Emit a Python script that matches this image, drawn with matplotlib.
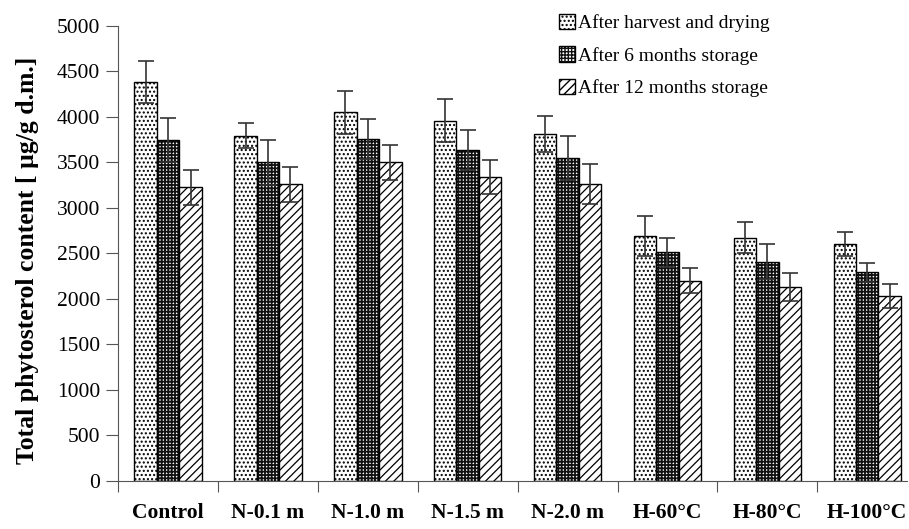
import numpy as np
import matplotlib.pyplot as plt
from matplotlib.patches import Patch

plt.rcParams['font.family'] = ['Liberation Serif', 'DejaVu Serif']

# Data
categories = ['Control', 'N-0.1 m', 'N-1.0 m', 'N-1.5 m', 'N-2.0 m',
              'H-60\u00b0C', 'H-80\u00b0C', 'H-100\u00b0C']
harvest = [4385, 3795, 4050, 3960, 3810, 2690, 2670, 2600]
harvest_err = [230, 135, 240, 240, 200, 220, 170, 130]
month6 = [3743, 3500, 3760, 3640, 3550, 2510, 2410, 2290]
month6_err = [240, 243, 220, 220, 240, 160, 190, 100]
month12 = [3225, 3260, 3500, 3340, 3260, 2200, 2130, 2030]
month12_err = [190, 190, 190, 190, 220, 140, 150, 130]
series_names = ['After harvest and drying', 'After 6 months storage',
                'After 12 months storage']

fig = plt.figure(figsize=(9.09, 5.29), dpi=100)
ax = fig.add_axes([0.13, 0.091, 0.868, 0.86])

x = np.arange(len(categories))
w = 0.225
offsets = [-w, 0, w]
series = [harvest, month6, month12]
errs = [harvest_err, month6_err, month12_err]
# (facecolor, hatch colour, hatch, hatch linewidth)
styles = [('white', 'black', '....', 1.0),
          ('white', '#111111', '+++++', 1.3),
          ('white', 'black', '////', 0.9)]

for vals, err, off, (fc, hc, hatch, hlw) in zip(series, errs, offsets, styles):
    with plt.rc_context({'hatch.linewidth': hlw}):
        ax.bar(x + off, vals, w, color=fc, edgecolor=hc, hatch=hatch,
               linewidth=0)
    ax.bar(x + off, vals, w, fill=False, edgecolor='black', linewidth=1.0)
    ax.errorbar(x + off, vals, yerr=err, fmt='none', ecolor='#333333',
                elinewidth=1.2, capsize=6, capthick=1.2)

ax.set_xlim(-0.5, 7.4)
ax.set_ylim(0, 5000)
ax.set_yticks(np.arange(0, 5001, 500))
ax.tick_params(axis='y', labelsize=15.5, direction='out', length=9,
               color='#555555', pad=4)
ax.set_xticks(np.arange(-0.5, 7.5, 1.0))
ax.set_xticks(x, minor=True)
ax.tick_params(axis='x', which='major', labelbottom=False, length=8,
               color='#555555')
ax.tick_params(axis='x', which='minor', length=0, pad=16)
ax.set_xticklabels(categories, minor=True, fontsize=15.5, fontweight='bold')

for s in ['top', 'right']:
    ax.spines[s].set_visible(False)
for s in ['left', 'bottom']:
    ax.spines[s].set_color('#555555')

ax.set_ylabel('Total phytosterol content [ \u00b5g/g d.m.]', fontsize=18.5,
              fontweight='bold')
ax.yaxis.set_label_coords(-0.1, 0.485)

handles = []
for (fc, hc, hatch, hlw) in styles:
    with plt.rc_context({'hatch.linewidth': hlw}):
        fill = Patch(facecolor=fc, edgecolor=hc, hatch=hatch, linewidth=0)
    outline = Patch(fill=False, edgecolor='black', linewidth=1.0)
    handles.append((fill, outline))
ax.legend(handles, series_names, loc='upper right',
          bbox_to_anchor=(0.848, 1.065), frameon=False, fontsize=14,
          handlelength=0.85, handleheight=0.85, handletextpad=0.15,
          labelspacing=0.72)

fig.savefig('out.png', dpi=100)
